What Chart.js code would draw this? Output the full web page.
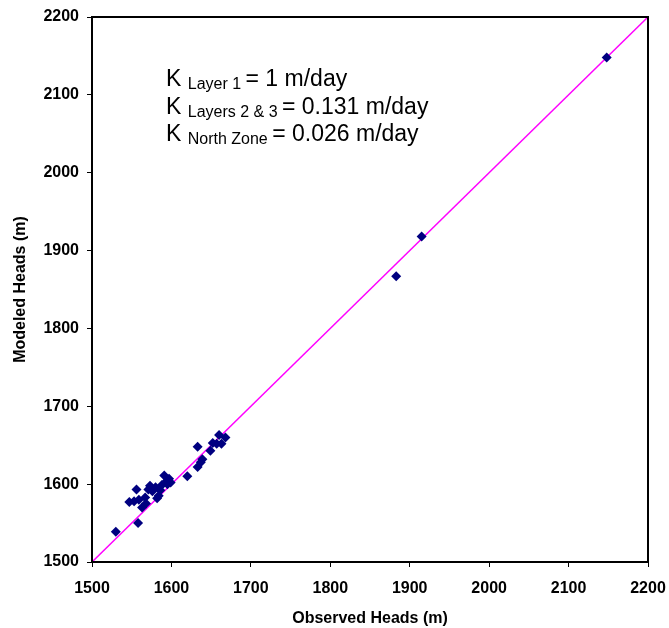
<!DOCTYPE html>
<html>
<head>
<meta charset="utf-8">
<script src="https://cdn.jsdelivr.net/npm/chart.js@4"></script>
<style>
  body { margin: 0; background: #fff; }
  #wrap { width: 669px; height: 628px; }
</style>
</head>
<body>
<div id="wrap"><canvas id="myChart"></canvas></div>
<script>
// observed vs modeled heads (m)
const observed = [1530, 1558, 1556, 1547, 1553, 1559, 1563, 1568, 1567, 1571, 1573, 1576, 1580, 1584, 1586, 1588,
    1591, 1594, 1597, 1599, 1595, 1582, 1620, 1633, 1633, 1637, 1639, 1649, 1652, 1657, 1660, 1663, 1668,
    1883, 1915, 2148];
const modeled = [1539, 1550, 1593, 1577, 1578, 1580, 1570, 1575, 1583, 1593, 1598, 1591, 1596, 1585, 1592, 1599,
    1611, 1604, 1607, 1602, 1600, 1582, 1610, 1648, 1622, 1628, 1632, 1643, 1653, 1652, 1663, 1652, 1660,
    1867, 1918, 2148];
const oneToOne = [1500, 2200];
const axisMin = 1500, axisMax = 2200, axisStep = 100;

const annoLines = [
    ['K', 'Layer 1', '= 1 m/day'],
    ['K', 'Layers 2 & 3', '= 0.131 m/day'],
    ['K', 'North Zone', '= 0.026 m/day']
];

const boxPlugin = {
    id: 'boxAndText',
    afterDraw(chart) {
        const c = chart.ctx, a = chart.chartArea;
        c.save();
        c.strokeStyle = '#000';
        c.lineWidth = 2;
        c.strokeRect(a.left, a.top, a.right - a.left, a.bottom - a.top);
        c.fillStyle = '#000';
        c.textBaseline = 'alphabetic';
        let y = 86;
        annoLines.forEach(l => {
            let x = 166;
            c.font = '23px "Liberation Sans", Arial, sans-serif';
            c.fillText(l[0], x, y);
            x += c.measureText(l[0] + ' ').width;
            c.font = '16px "Liberation Sans", Arial, sans-serif';
            c.fillText(l[1], x, y + 3);
            x += c.measureText(l[1] + ' ').width;
            c.font = '23px "Liberation Sans", Arial, sans-serif';
            c.fillText(l[2], x, y);
            y += 27.5;
        });
        c.restore();
    }
};

const tickFont = { family: '"Liberation Sans", Arial, sans-serif', size: 16, weight: 'bold' };

new Chart(document.getElementById('myChart'), {
    type: 'scatter',
    data: {
        datasets: [{
            label: 'Heads',
            data: observed.map((v, i) => ({ x: v, y: modeled[i] })),
            pointStyle: 'rectRot',
            pointRadius: 5,
            backgroundColor: '#000080',
            borderColor: '#000080',
            borderWidth: 0
        }, {
            label: '1:1',
            data: oneToOne.map(v => ({ x: v, y: v })),
            showLine: true,
            pointRadius: 0,
            borderColor: '#ff00ff',
            borderWidth: 1.5
        }]
    },
    options: {
        animation: false,
        responsive: true,
        maintainAspectRatio: false,
        layout: { padding: { top: 17, right: 21, left: 0, bottom: 0 } },
        plugins: { legend: { display: false }, tooltip: { enabled: false } },
        scales: {
            x: {
                min: axisMin, max: axisMax,
                ticks: { stepSize: axisStep, color: '#000', font: tickFont, padding: 12, callback: v => v },
                grid: { display: true, drawOnChartArea: false, drawTicks: true, tickLength: 5, color: '#000' },
                border: { display: true, color: '#000', width: 2 },
                title: { display: true, text: 'Observed Heads (m)', color: '#000', font: tickFont, padding: { top: 4, bottom: 0 } },
                afterFit: s => { s.height = 66; s.paddingLeft = 0; s.paddingRight = 0; }
            },
            y: {
                min: axisMin, max: axisMax,
                ticks: { stepSize: axisStep, color: '#000', font: tickFont, padding: 8, callback: v => v },
                grid: { display: true, drawOnChartArea: false, drawTicks: true, tickLength: 5, color: '#000' },
                border: { display: true, color: '#000', width: 2 },
                title: { display: true, text: 'Modeled Heads (m)', color: '#000', font: tickFont, padding: { top: 11, bottom: 4 } },
                afterFit: s => { s.width = 92; s.paddingTop = 0; s.paddingBottom = 0; }
            }
        }
    },
    plugins: [boxPlugin]
});
</script>
</body>
</html>
